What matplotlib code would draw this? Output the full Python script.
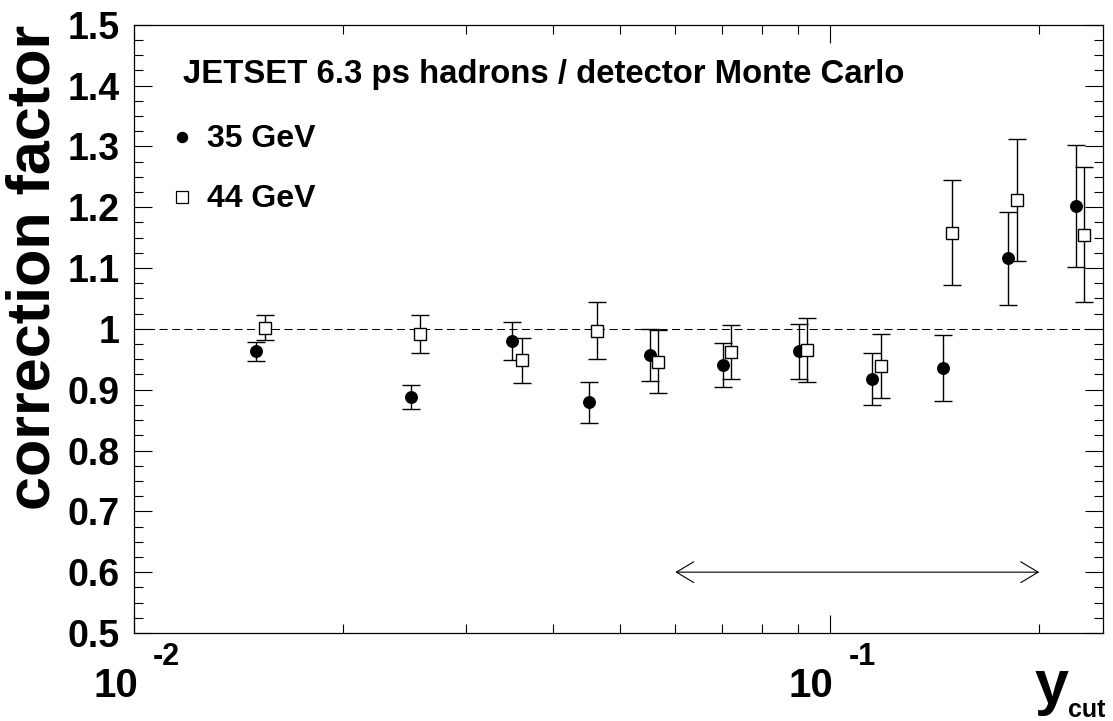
import matplotlib
matplotlib.use("Agg")
import matplotlib.pyplot as plt
from matplotlib.ticker import FixedLocator, NullFormatter, MultipleLocator

plt.rcParams['font.family'] = ['Liberation Sans', 'DejaVu Sans']
plt.rcParams['font.weight'] = 'bold'
plt.rcParams['lines.scale_dashes'] = False

# correction factors, 35 GeV
ycut_35 = [0.0150, 0.0250, 0.0350, 0.0451, 0.0551, 0.0702, 0.0902, 0.1150, 0.1453, 0.1803, 0.2260]
corr_35 = [0.963, 0.888, 0.980, 0.879, 0.957, 0.940, 0.963, 0.918, 0.936, 1.116, 1.202]
err_35 = [0.016, 0.020, 0.032, 0.033, 0.043, 0.036, 0.045, 0.043, 0.054, 0.076, 0.101]

# correction factors, 44 GeV
ycut_44 = [0.01545, 0.02576, 0.0361, 0.0463, 0.0566, 0.0722, 0.0928, 0.1186, 0.1497, 0.1860, 0.2323]
corr_44 = [1.002, 0.991, 0.9485, 0.997, 0.946, 0.962, 0.965, 0.939, 1.158, 1.212, 1.155]
err_44 = [0.021, 0.031, 0.037, 0.047, 0.052, 0.044, 0.053, 0.052, 0.086, 0.100, 0.111]

# fit range marked by the arrow
fit_range = [0.06, 0.2]
fit_arrow_y = 0.6

x_major = [0.01, 0.1]
x_major_exp = ['-2', '-1']
x_minor = [0.02, 0.03, 0.04, 0.05, 0.06, 0.07, 0.08, 0.09, 0.2]

header = "JETSET 6.3 ps hadrons / detector Monte Carlo"
labels = ["35 GeV", "44 GeV"]

W, H = 1113, 721
fig = plt.figure(figsize=(W / 100, H / 100), dpi=100)
ax = fig.add_axes([133.8 / W, 1 - 633 / H, (1103 - 133.8) / W, (633 - 24.7) / H])

ax.set_xscale('log')
ax.set_xlim(0.01, 0.247)
ax.set_ylim(0.5, 1.5)

# reference line at unity
ax.axhline(1.0, color='black', lw=0.75, dashes=(5.8, 3.2))

ax.errorbar(ycut_35, corr_35, yerr=err_35, fmt='o', ms=8.3, mfc='black', mec='black',
            ecolor='black', elinewidth=1.0, capsize=6.4, capthick=1.0, zorder=3)
ax.errorbar(ycut_44, corr_44, yerr=err_44, fmt='s', ms=8.8, mfc='white', mec='black', mew=1.0,
            ecolor='black', elinewidth=1.0, capsize=6.4, capthick=1.0, zorder=3)

ax.annotate('', xy=(fit_range[0], fit_arrow_y), xytext=(fit_range[1], fit_arrow_y),
            arrowprops=dict(arrowstyle='<->,head_length=1.25,head_width=0.75',
                            lw=0.8, color='black', shrinkA=0, shrinkB=0,
                            mutation_scale=10))

# axes frame and ticks
for s in ax.spines.values():
    s.set_linewidth(0.9)
ax.xaxis.set_major_locator(FixedLocator(x_major))
ax.xaxis.set_minor_locator(FixedLocator(x_minor))
ax.xaxis.set_major_formatter(NullFormatter())
ax.xaxis.set_minor_formatter(NullFormatter())
ax.yaxis.set_major_locator(MultipleLocator(0.1))
ax.yaxis.set_minor_locator(MultipleLocator(0.025))
ax.tick_params(which='both', direction='in', top=True, right=True, width=0.8)
ax.tick_params(which='major', length=13)
ax.tick_params(which='minor', length=6.5)
ax.tick_params(axis='y', which='major', labelsize=27, pad=10)
ax.set_yticks([0.5 + 0.1 * i for i in range(11)])
ax.set_yticklabels(['%g' % (0.5 + 0.1 * i) for i in range(11)], fontweight='bold')

# power-of-ten tick labels
for xv, ex in zip(x_major, x_major_exp):
    ax.annotate('10', xy=(xv, 0), xycoords=('data', 'axes fraction'),
                xytext=(4, -63.7), textcoords='offset pixels',
                ha='right', va='baseline', fontsize=29, fontweight='bold')
    ax.annotate(ex, xy=(xv, 0), xycoords=('data', 'axes fraction'),
                xytext=(19, -32), textcoords='offset pixels',
                ha='left', va='baseline', fontsize=22, fontweight='bold')

# axis titles
ax.annotate('y', xy=(1, 0), xycoords='axes fraction', xytext=(-34, -70),
            textcoords='offset pixels', ha='right', va='baseline',
            fontsize=44, fontweight='bold')
ax.annotate('cut', xy=(1, 0), xycoords='axes fraction', xytext=(-35, -84),
            textcoords='offset pixels', ha='left', va='baseline',
            fontsize=18, fontweight='bold')

ax.set_ylabel('correction factor', fontsize=44, fontweight='bold', loc='top', va='baseline')
ax.yaxis.set_label_coords((50 - 133.8) / (1103 - 133.8), 1.0)

# header and legend
ax.text(183, H - 83.3, header, transform=None, fontsize=23.7, fontweight='bold',
        ha='left', va='baseline')
ax.plot([181.7], [H - 136.7], 'o', ms=7.2, color='black', transform=None, clip_on=False)
ax.plot([181.7], [H - 196.7], 's', ms=8.0, mfc='white', mec='black', mew=0.9,
        transform=None, clip_on=False)
ax.text(206.7, H - 147, labels[0], transform=None, fontsize=23, fontweight='bold',
        ha='left', va='baseline')
ax.text(206.7, H - 206.7, labels[1], transform=None, fontsize=23, fontweight='bold',
        ha='left', va='baseline')

fig.savefig('out.png', dpi=100)
